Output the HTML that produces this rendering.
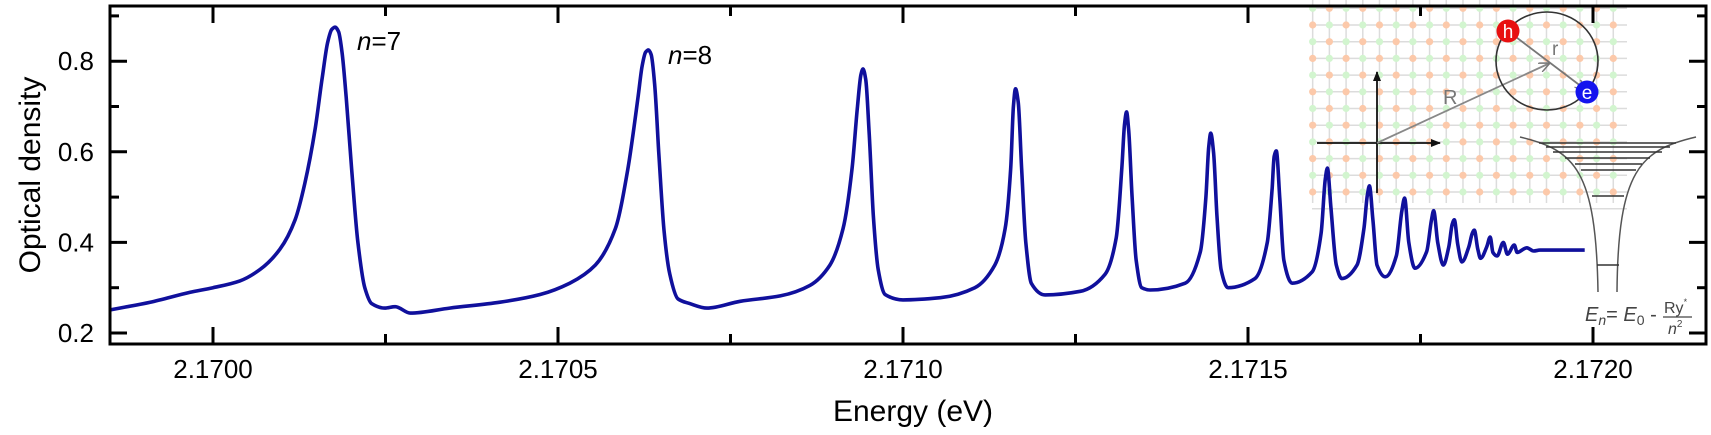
<!DOCTYPE html>
<html><head><meta charset="utf-8"><style>
html,body{margin:0;padding:0;background:#fff;}
svg{display:block;font-family:"Liberation Sans",Arial,sans-serif;}
</style></head><body>
<svg id="chart" width="1711" height="435" viewBox="0 0 1711 435" xmlns="http://www.w3.org/2000/svg">
<g id="inset"></g>
<g id="plot"></g>
<g id="axes"></g>
</svg>
<script>
const energy = [2.169851,2.169909,2.169967,2.170000,2.170039,2.170068,2.170097,2.170119,2.170133,2.170148,2.170158,2.170166,2.170172,2.170177,2.170182,2.170187,2.170193,2.170201,2.170210,2.170220,2.170230,2.170249,2.170264,2.170286,
2.170343,2.170416,2.170474,2.170517,2.170554,2.170583,2.170601,2.170616,2.170622,2.170627,2.170631,2.170635,2.170640,2.170646,2.170654,2.170662,2.170674,2.170691,2.170716,
2.170764,2.170822,2.170865,2.170894,2.170913,2.170926,2.170934,2.170939,2.170942,2.170946,2.170951,2.170957,2.170964,2.170974,2.171000,
2.171054,2.171104,2.171133,2.171148,2.171156,2.171160,2.171163,2.171167,2.171172,2.171178,2.171186,2.171206,
2.171257,2.171293,2.171309,2.171317,2.171321,2.171324,2.171327,2.171332,2.171338,2.171346,2.171358,
2.171409,2.171431,2.171439,2.171443,2.171446,2.171450,2.171455,2.171461,2.171471,
2.171510,2.171528,2.171535,2.171538,2.171541,2.171546,2.171552,2.171564,
2.171593,2.171606,2.171612,2.171615,2.171620,2.171628,2.171636,
2.171658,2.171668,2.171673,2.171676,2.171681,2.171687,2.171699,
2.171715,2.171723,2.171727,2.171733,2.171742,
2.171759,2.171766,2.171769,2.171775,2.171783,
2.171791,2.171796,2.171799,2.171804,2.171810,
2.171820,2.171825,2.171828,2.171833,2.171837,
2.171846,2.171851,2.171855,2.171861,
2.171870,2.171876,2.171886,2.171890,2.171904,2.171914,2.171923,2.171988];
const density = [0.251,0.268,0.290,0.300,0.315,0.340,0.385,0.450,0.530,0.650,0.760,0.840,0.870,0.875,0.865,0.820,0.720,0.560,0.400,0.300,0.265,0.255,0.258,0.244,
0.255,0.268,0.285,0.310,0.350,0.430,0.560,0.720,0.790,0.820,0.825,0.815,0.750,0.600,0.420,0.330,0.275,0.265,0.255,
0.270,0.282,0.305,0.350,0.430,0.560,0.700,0.770,0.783,0.760,0.640,0.460,0.340,0.285,0.273,
0.278,0.300,0.350,0.430,0.560,0.700,0.739,0.710,0.560,0.400,0.310,0.284,
0.292,0.330,0.410,0.560,0.660,0.688,0.650,0.500,0.360,0.300,0.295,
0.310,0.380,0.500,0.610,0.641,0.600,0.460,0.340,0.300,
0.320,0.400,0.520,0.590,0.602,0.500,0.360,0.310,
0.335,0.420,0.540,0.564,0.480,0.350,0.320,
0.350,0.430,0.505,0.525,0.450,0.350,0.324,
0.370,0.470,0.498,0.400,0.343,
0.380,0.450,0.470,0.400,0.350,
0.390,0.440,0.450,0.395,0.357,
0.390,0.420,0.427,0.385,0.365,
0.390,0.412,0.378,0.370,
0.400,0.374,0.394,0.378,0.388,0.381,0.383,0.383];
const xTicks = [2.1700,2.1705,2.1710,2.1715,2.1720];
const xTickLabels = ["2.1700","2.1705","2.1710","2.1715","2.1720"];
const yTicks = [0.2,0.4,0.6,0.8];
const yTickLabels = ["0.2","0.4","0.6","0.8"];
const yMinor = [0.3,0.5,0.7,0.9];
const xMinor = [2.16975,2.17025,2.17075,2.17125,2.17175,2.17225];

const NS="http://www.w3.org/2000/svg";
const L=110,R=1706,T=6,B=344;
function xs(e){return 213+(e-2.17)*690000;}
function ys(v){return 333-(v-0.2)*453;}
function mk(tag,attrs,parent){const el=document.createElementNS(NS,tag);for(const k in attrs)el.setAttribute(k,attrs[k]);parent.appendChild(el);return el;}
const inset=document.getElementById('inset'),plot=document.getElementById('plot'),axes=document.getElementById('axes');

// inset lattice
const grid=mk('g',{},inset);


for(let i=0;i<19;i++){const x=1322.7+16.7*(i-0.6);mk('line',{x1:x,y1:0,x2:x,y2:203,stroke:'#dcdcdc','stroke-width':1.5},grid);}
for(let j=0;j<13;j++){const y=8.3+16.7*j;mk('line',{x1:1312,y1:y,x2:1627,y2:y,stroke:'#dcdcdc','stroke-width':1.5},grid);}
for(let i=0;i<19;i++)for(let j=0;j<12;j++){const x=1322.7+16.7*(i-0.6),y=8.3+16.7*j;mk('circle',{cx:x,cy:y,r:3.6,fill:((i+j)%2?'#fcc9aa':'#d2f5cf')},grid);}
const defs=mk('defs',{},inset);
const m1=mk('marker',{id:'ab',markerWidth:10,markerHeight:8,refX:9,refY:4,orient:'auto',markerUnits:'userSpaceOnUse'},defs);
mk('path',{d:'M0,0 L10,4 L0,8 Z',fill:'#111'},m1);
const m2=mk('marker',{id:'ag',markerWidth:12,markerHeight:10,refX:11,refY:5,orient:'auto',markerUnits:'userSpaceOnUse'},defs);
mk('path',{d:'M0,0 L11,5 L0,10',fill:'none',stroke:'#777','stroke-width':1.5},m2);
mk('line',{x1:1317,y1:143,x2:1440,y2:143,stroke:'#111','stroke-width':1.8,'marker-end':'url(#ab)'},inset);
mk('line',{x1:1377,y1:193,x2:1377,y2:72,stroke:'#111','stroke-width':1.8,'marker-end':'url(#ab)'},inset);
mk('line',{x1:1377,y1:143,x2:1550,y2:63,stroke:'#888','stroke-width':1.8,'marker-end':'url(#ag)'},inset);
mk('ellipse',{cx:1547,cy:61,rx:51,ry:49,fill:'none',stroke:'#333','stroke-width':1.6},inset);
mk('line',{x1:1508,y1:31,x2:1586,y2:90,stroke:'#777','stroke-width':1.8,'marker-end':'url(#ag)'},inset);
const rl=mk('text',{x:1443,y:104,'font-size':20,fill:'#777'},inset);rl.textContent='R';


const rs=mk('text',{x:1552,y:55,'font-size':19,fill:'#777'},inset);rs.textContent='r';


const hc=mk('circle',{cx:1508,cy:31,r:11.5,fill:'#e81010'},inset);


const ht=mk('text',{x:1508,y:38,'font-size':19,fill:'#fff','text-anchor':'middle'},inset);ht.textContent='h';
const ec=mk('circle',{cx:1587,cy:92,r:11.5,fill:'#1414ee'},inset);


const et=mk('text',{x:1587,y:99,'font-size':19,fill:'#fff','text-anchor':'middle'},inset);et.textContent='e';
// potential well
const well=mk('g',{},inset);


mk('path',{d:'M1520,137 C1575,150 1596,170 1598,292 M1617,292 C1618,170 1640,150 1696,137',fill:'none',stroke:'#555','stroke-width':1.5},well);
[[1539,1676,143],[1546,1670,147],[1553,1662,152],[1565,1650,158],[1575,1642,164],[1581,1636,170],[1592,1624,196],[1597,1619,265]].forEach(l=>mk('line',{x1:l[0],y1:l[2],x2:l[1],y2:l[2],stroke:'#333','stroke-width':1.5},well));
const eq=mk('text',{x:1585,y:321,'font-size':20,fill:'#444'},inset);


eq.innerHTML='<tspan font-style="italic">E</tspan><tspan font-style="italic" font-size="14" dy="4">n</tspan><tspan dy="-4">= </tspan><tspan font-style="italic">E</tspan><tspan font-size="14" dy="4">0</tspan><tspan dy="-4"> - </tspan>';
const ry=mk('text',{x:1664,y:313,'font-size':16,fill:'#444'},inset);ry.innerHTML='Ry<tspan font-size="9" dy="-8">*</tspan>';
mk('line',{x1:1663,y1:317,x2:1692,y2:317,stroke:'#444','stroke-width':1.2},inset);
const n2=mk('text',{x:1668,y:334,'font-size':16,fill:'#444','font-style':'italic'},inset);n2.innerHTML='n<tspan font-size="10" dy="-7" font-style="normal">2</tspan>';

// series: monotone cubic path through data points
function monotonePath(px,py){
 const n=px.length,dx=[],m=[],t=new Array(n);
 for(let i=0;i<n-1;i++){dx[i]=px[i+1]-px[i];m[i]=(py[i+1]-py[i])/dx[i];}
 t[0]=m[0];t[n-1]=m[n-2];
 for(let i=1;i<n-1;i++){t[i]=(m[i-1]*m[i]<=0)?0:(3*(dx[i-1]+dx[i]))/((2*dx[i]+dx[i-1])/m[i-1]+(dx[i]+2*dx[i-1])/m[i]);}
 let d='M'+px[0].toFixed(1)+','+py[0].toFixed(1);
 for(let i=0;i<n-1;i++){const h=dx[i]/3;
  d+='C'+(px[i]+h).toFixed(1)+','+(py[i]+t[i]*h).toFixed(1)+' '+(px[i+1]-h).toFixed(1)+','+(py[i+1]-t[i+1]*h).toFixed(1)+' '+px[i+1].toFixed(1)+','+py[i+1].toFixed(1);}
 return d;
}
const line=mk('path',{d:monotonePath(energy.map(xs),density.map(ys)),fill:'none',stroke:'#10109c','stroke-width':3.6,'stroke-linejoin':'round'},plot);


const l7=mk('text',{x:357,y:50,'font-size':26,fill:'#000'},plot);l7.innerHTML='<tspan font-style="italic">n</tspan>=7';


const l8=mk('text',{x:668,y:64,'font-size':26,fill:'#000'},plot);l8.innerHTML='<tspan font-style="italic">n</tspan>=8';



// axes frame
const fr=mk('rect',{x:L,y:T,width:R-L,height:B-T,fill:'none',stroke:'#000','stroke-width':3},axes);


xTicks.forEach((t,i)=>{const x=xs(t);
 mk('line',{x1:x,y1:B,x2:x,y2:B-17,stroke:'#000','stroke-width':3},axes);
 mk('line',{x1:x,y1:T,x2:x,y2:T+17,stroke:'#000','stroke-width':3},axes);
 const tl=mk('text',{x:x,y:378,'font-size':26,'text-anchor':'middle'},axes);tl.textContent=xTickLabels[i];
 
 
});
xMinor.forEach(t=>{const x=xs(t);if(x<L||x>R)return;
 mk('line',{x1:x,y1:B,x2:x,y2:B-10,stroke:'#000','stroke-width':3},axes);
 mk('line',{x1:x,y1:T,x2:x,y2:T+10,stroke:'#000','stroke-width':3},axes);});
yTicks.forEach((t,i)=>{const y=ys(t);
 mk('line',{x1:L,y1:y,x2:L+17,y2:y,stroke:'#000','stroke-width':3},axes);
 mk('line',{x1:R,y1:y,x2:R-17,y2:y,stroke:'#000','stroke-width':3},axes);
 const tl=mk('text',{x:94,y:y+9,'font-size':26,'text-anchor':'end'},axes);tl.textContent=yTickLabels[i];
 
 
});
yMinor.forEach(t=>{const y=ys(t);if(y<T||y>B)return;
 mk('line',{x1:L,y1:y,x2:L+9,y2:y,stroke:'#000','stroke-width':3},axes);
 mk('line',{x1:R,y1:y,x2:R-9,y2:y,stroke:'#000','stroke-width':3},axes);});
const xt=mk('text',{x:913,y:421,'font-size':30,'text-anchor':'middle'},axes);xt.textContent='Energy (eV)';


const yt=mk('text',{x:0,y:0,'font-size':30,'text-anchor':'middle',transform:'translate(40,175) rotate(-90)'},axes);yt.textContent='Optical density';


</script>
</body></html>
